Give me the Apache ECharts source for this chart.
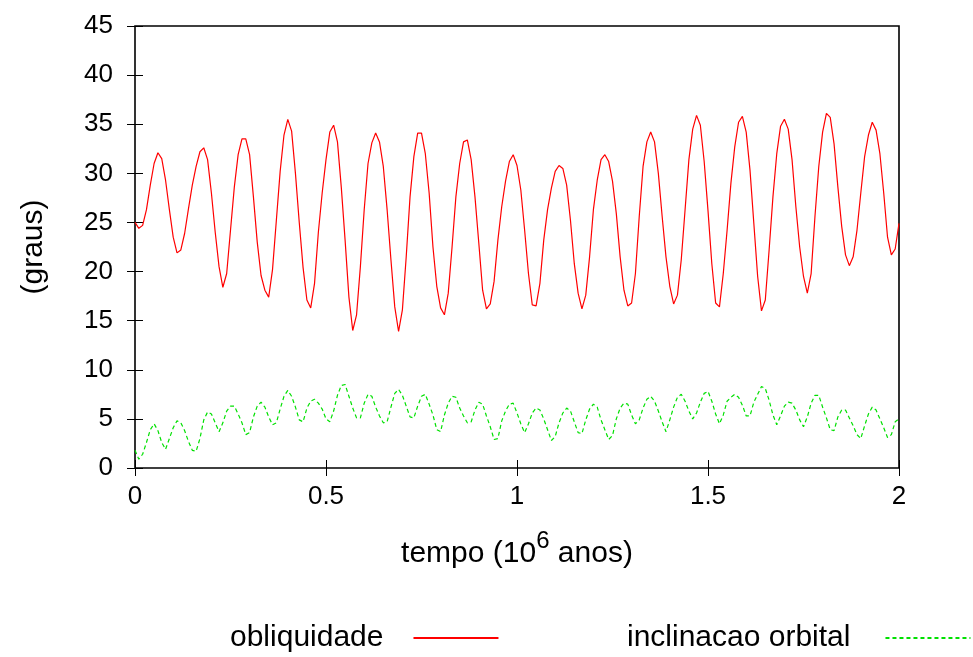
<!DOCTYPE html>
<html>
<head>
<meta charset="utf-8">
<script src="https://cdn.jsdelivr.net/npm/echarts@6/dist/echarts.min.js"></script>
<style>
  html, body { margin: 0; padding: 0; background: #fff; }
  #chart { width: 973px; height: 657px; }
</style>
</head>
<body>
<div id="chart"></div>
<script>
// Time axis: samples every 0.01 (10^6 anos), from 0 to 2
const timeStep = 0.01;
const xTicks = { min: 0, max: 2, interval: 0.5 };
const yTicks = { min: 0, max: 45, interval: 5 };

const seriesNames = ['obliquidade', 'inclinacao orbital'];

// obliquidade (graus)
const obliquidade = [
  25.0, 24.4, 24.7, 26.3, 28.8, 31.0, 32.1, 31.5, 29.3, 26.3,
  23.5, 21.9, 22.2, 23.9, 26.4, 28.8, 30.7, 32.2, 32.6, 31.4,
  28.0, 24.0, 20.5, 18.4, 19.8, 24.2, 28.6, 31.9, 33.5, 33.5,
  31.9, 27.6, 23.0, 19.6, 18.1, 17.4, 20.2, 25.2, 30.2, 33.9,
  35.5, 34.3, 30.0, 25.0, 20.4, 17.1, 16.3, 18.8, 24.0, 28.0,
  31.4, 34.2, 34.9, 33.2, 28.6, 23.2, 17.4, 14.0, 15.6, 20.5,
  26.3, 31.0, 33.1, 34.1, 33.2, 30.7, 26.3, 21.2, 16.4, 13.9,
  16.1, 21.5, 27.6, 31.7, 34.1, 34.1, 32.0, 28.0, 22.5, 18.5,
  16.3, 15.6, 17.8, 22.5, 27.6, 31.0, 33.2, 33.4, 31.4, 27.6,
  22.9, 18.1, 16.2, 16.7, 19.0, 23.2, 26.6, 29.2, 31.2, 31.9,
  30.8, 28.3, 24.2, 19.8, 16.6, 16.5, 18.8, 23.2, 26.3, 28.5,
  30.2, 30.8, 30.5, 28.8, 25.2, 20.8, 17.8, 16.2, 17.6, 21.5,
  26.3, 29.3, 31.4, 31.9, 31.2, 29.2, 25.9, 21.5, 18.1, 16.5,
  16.8, 19.8, 25.6, 30.7, 33.2, 34.2, 33.2, 30.0, 25.6, 21.5,
  18.5, 16.7, 17.6, 21.2, 26.3, 31.4, 34.5, 35.9, 34.9, 31.2,
  26.2, 20.8, 16.8, 16.4, 19.8, 24.2, 29.0, 32.7, 35.2, 35.8,
  34.2, 30.3, 24.9, 19.5, 16.0, 17.1, 22.2, 27.6, 32.0, 34.8,
  35.5, 34.5, 31.4, 26.6, 22.5, 19.5, 17.8, 19.8, 25.6, 30.7,
  34.2, 36.1, 35.7, 33.0, 28.6, 24.6, 21.7, 20.6, 21.5, 24.2,
  28.0, 31.7, 33.9, 35.2, 34.4, 32.0, 28.0, 23.5, 21.7, 22.3,
  24.9
];

// inclinacao orbital (graus)
const inclinacao = [
  1.8, 0.9, 1.4, 2.6, 3.9, 4.5, 3.8, 2.6, 1.9, 3.0,
  4.1, 4.8, 4.6, 3.8, 2.7, 1.8, 1.7, 3.0, 4.9, 5.7,
  5.5, 4.6, 3.7, 4.6, 5.8, 6.3, 6.3, 5.5, 4.6, 3.4,
  3.6, 5.2, 6.3, 6.7, 6.2, 5.2, 4.4, 4.6, 6.0, 7.3,
  7.9, 7.3, 6.2, 4.9, 4.7, 6.1, 6.8, 7.0, 6.6, 6.0,
  5.0, 4.7, 5.8, 7.4, 8.4, 8.5, 7.3, 6.1, 5.1, 5.1,
  6.6, 7.5, 7.3, 6.2, 5.3, 4.6, 4.7, 6.2, 7.6, 8.0,
  7.4, 6.3, 5.2, 5.1, 6.3, 7.3, 7.5, 6.5, 5.4, 3.9,
  3.7, 5.4, 6.6, 7.3, 7.2, 6.1, 5.3, 4.6, 4.7, 5.9,
  6.7, 6.5, 5.3, 4.2, 2.9, 3.0, 4.8, 5.8, 6.5, 6.6,
  5.6, 4.5, 3.6, 4.5, 5.6, 6.1, 5.9, 5.0, 3.9, 2.8,
  3.2, 4.6, 5.6, 6.1, 5.8, 4.7, 3.6, 3.5, 4.9, 6.0,
  6.5, 6.2, 4.9, 3.9, 2.9, 3.3, 5.0, 6.1, 6.6, 6.5,
  5.4, 4.5, 4.9, 6.1, 7.0, 7.3, 6.8, 5.8, 4.7, 3.7,
  4.9, 6.2, 7.2, 7.5, 6.8, 5.8, 5.0, 5.6, 6.7, 7.6,
  7.8, 6.8, 5.5, 4.5, 5.4, 6.8, 7.2, 7.5, 7.2, 6.4,
  5.3, 5.3, 6.7, 7.5, 8.3, 8.1, 6.9, 5.4, 4.4, 5.3,
  6.3, 6.7, 6.6, 5.9, 4.9, 4.2, 5.2, 6.6, 7.4, 7.4,
  6.2, 5.1, 3.9, 3.8, 5.2, 5.9, 5.9, 5.1, 4.3, 3.4,
  3.0, 4.3, 5.5, 6.2, 5.9, 5.0, 4.1, 3.1, 3.4, 4.7,
  5.0
];

const FONT = 'Liberation Sans, Arial, sans-serif';

function toPairs(values) {
  return values.map((v, i) => [+(i * timeStep).toFixed(2), v]);
}

const tickStyle = { show: true, inside: true, length: 8, lineStyle: { color: '#000', width: 1 } };

// legend entry: label first, then a plain line sample (no marker)
function legendEntry(name, left, gap) {
  return {
    data: [name],
    left: left, top: 618,
    align: 'right',
    itemWidth: 85, itemHeight: 14,
    itemStyle: { opacity: 0 },
    textStyle: { fontFamily: FONT, fontSize: 30, color: '#000', padding: [0, gap, 0, 0] }
  };
}

const chart = echarts.init(document.getElementById('chart'), null, { renderer: 'canvas' });

chart.setOption({
  backgroundColor: '#fff',
  animation: false,
  textStyle: { fontFamily: FONT, color: '#000' },
  grid: {
    left: 135, right: 74, top: 26, bottom: 189,
    show: true, borderColor: '#000', borderWidth: 1.6, backgroundColor: 'transparent'
  },
  legend: [
    legendEntry(seriesNames[0], 225, 25),
    legendEntry(seriesNames[1], 622, 30)
  ],
  xAxis: [
    {
      type: 'value', position: 'bottom',
      min: xTicks.min, max: xTicks.max, interval: xTicks.interval,
      axisLine: { show: false },
      axisTick: tickStyle,
      splitLine: { show: false },
      axisLabel: { fontFamily: FONT, fontSize: 26, color: '#000', margin: 16 },
      name: '{a|tempo (10}{s|6}{a| anos)}',
      nameLocation: 'middle',
      nameGap: 61,
      nameTextStyle: {
        rich: {
          a: { fontFamily: FONT, fontSize: 30, color: '#000', lineHeight: 40, verticalAlign: 'bottom' },
          s: { fontFamily: FONT, fontSize: 24, color: '#000', lineHeight: 40, verticalAlign: 'top' }
        }
      }
    },
    {
      type: 'value', position: 'top',
      min: xTicks.min, max: xTicks.max, interval: xTicks.interval,
      axisLine: { show: false },
      axisTick: tickStyle,
      axisLabel: { show: false },
      splitLine: { show: false }
    }
  ],
  yAxis: [
    {
      type: 'value', position: 'left',
      min: yTicks.min, max: yTicks.max, interval: yTicks.interval,
      axisLine: { show: false },
      axisTick: tickStyle,
      splitLine: { show: false },
      axisLabel: { fontFamily: FONT, fontSize: 26, color: '#000', margin: 22 },
      name: '(graus)',
      nameLocation: 'middle',
      nameGap: 86,
      nameTextStyle: { fontFamily: FONT, fontSize: 30, color: '#000' }
    },
    {
      type: 'value', position: 'right',
      min: yTicks.min, max: yTicks.max, interval: yTicks.interval,
      axisLine: { show: false },
      axisTick: tickStyle,
      axisLabel: { show: false },
      splitLine: { show: false }
    }
  ],
  series: [
    {
      name: seriesNames[0],
      type: 'line',
      data: toPairs(obliquidade),
      symbol: 'none',
      lineStyle: { color: '#ff0000', width: 1.2 },
      itemStyle: { color: '#ff0000' }
    },
    {
      name: seriesNames[1],
      type: 'line',
      data: toPairs(inclinacao),
      symbol: 'none',
      lineStyle: { color: '#00e000', width: 1.2, type: [4, 3] },
      itemStyle: { color: '#00e000' }
    }
  ]
});
</script>
</body>
</html>
